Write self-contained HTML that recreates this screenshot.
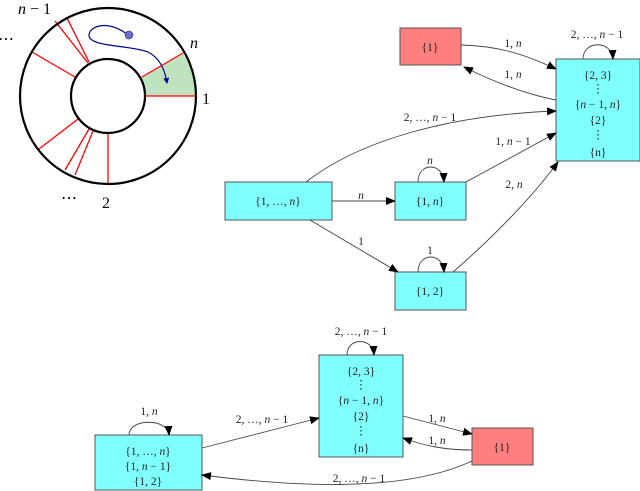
<!DOCTYPE html>
<html><head><meta charset="utf-8"><style>
html,body{margin:0;padding:0;background:#fff;}
svg{display:block;}
text{font-family:"Liberation Serif",serif;font-size:11.5px;fill:#222;}
.i{font-style:italic;}
.big{font-size:16px;fill:#000;}
</style></head><body>
<svg width="640" height="491" viewBox="0 0 640 491" xmlns="http://www.w3.org/2000/svg">
<defs>
<marker id="a" markerWidth="10" markerHeight="8" refX="9" refY="4" orient="auto" markerUnits="userSpaceOnUse">
<path d="M0,0 L10,4 L0,8 z" fill="#000"/></marker>
<marker id="b" markerWidth="6" markerHeight="6" refX="5" refY="3" orient="auto" markerUnits="userSpaceOnUse">
<path d="M0,0 L6,3 L0,6 z" fill="#00008b"/></marker>
</defs>
<path d="M108,96 L183,53 A88,88 0 0 1 196,96 Z" fill="#bfe3c0"/>
<circle cx="108" cy="96" r="37" fill="#fff"/>
<g stroke="#f00" stroke-width="1.3">
<line x1="142" y1="77" x2="183" y2="53"/>
<line x1="146" y1="96" x2="196" y2="96"/>
<line x1="55" y1="21" x2="88" y2="63"/>
<line x1="67" y1="18" x2="89" y2="62"/>
<line x1="32" y1="52" x2="75" y2="77"/>
<line x1="78" y1="119" x2="39" y2="149"/>
<line x1="89" y1="129" x2="65" y2="170"/>
<line x1="93" y1="131" x2="75" y2="175"/>
<line x1="108" y1="133" x2="108" y2="183"/>
</g>
<circle cx="108" cy="96" r="88" fill="none" stroke="#000" stroke-width="2.2"/>
<circle cx="108" cy="96" r="37" fill="none" stroke="#000" stroke-width="2.2"/>
<path d="M128,35 C110,20 90,25 89,35 C88,47 130,45 148,52 C160,58 165,70 167,83" fill="none" stroke="#00008b" stroke-width="1.2" marker-end="url(#b)"/>
<circle cx="129" cy="35" r="4" fill="#6b6bd6" stroke="#333" stroke-width="0.6"/>
<text x="18" y="14" class="big"><tspan class="i">n</tspan> − 1</text>
<text x="190" y="48" class="big i">n</text>
<text x="202" y="104" class="big">1</text>
<text x="-2" y="44" class="big">⋯</text>
<text x="61" y="203" class="big">⋯</text>
<text x="102" y="208" class="big">2</text>

<g stroke="#555" stroke-width="1">
<rect x="400" y="28" width="61" height="37" fill="#ff7f7f"/>
<rect x="556" y="59" width="84" height="102" fill="#80ffff"/>
<rect x="225" y="182" width="107" height="38" fill="#80ffff"/>
<rect x="395" y="182" width="71" height="38" fill="#80ffff"/>
<rect x="395" y="272" width="71" height="38" fill="#80ffff"/>
<rect x="319" y="355" width="84" height="102" fill="#80ffff"/>
<rect x="472" y="428" width="61" height="37" fill="#ff7f7f"/>
<rect x="95" y="435" width="107" height="55" fill="#80ffff"/>
</g>
<g text-anchor="middle">
<text x="430" y="51">{1}</text>
<text x="598" y="79">{2, 3}</text>
<text x="598" y="92">⋮</text>
<text x="598" y="108">{<tspan class="i">n</tspan> − 1, <tspan class="i">n</tspan>}</text>
<text x="598" y="124">{2}</text>
<text x="598" y="138">⋮</text>
<text x="598" y="156">{n}</text>
<text x="278" y="205">{1, …, <tspan class="i">n</tspan>}</text>
<text x="430" y="205">{1, <tspan class="i">n</tspan>}</text>
<text x="430" y="295">{1, 2}</text>
<text x="361" y="375">{2, 3}</text>
<text x="361" y="388">⋮</text>
<text x="361" y="404">{<tspan class="i">n</tspan> − 1, <tspan class="i">n</tspan>}</text>
<text x="361" y="420">{2}</text>
<text x="361" y="434">⋮</text>
<text x="361" y="452">{n}</text>
<text x="502" y="451">{1}</text>
<text x="148" y="455">{1, …, <tspan class="i">n</tspan>}</text>
<text x="148" y="470">{1, <tspan class="i">n</tspan> − 1}</text>
<text x="148" y="485">{1, 2}</text>
</g>
<g fill="none" stroke="#444" stroke-width="0.9">
<path d="M461,45 C495,46 520,52 556,69" marker-end="url(#a)"/>
<path d="M556,100 C530,95 500,85 464,67" marker-end="url(#a)"/>
<path d="M583,59 C583,40 612,40 613,59" marker-end="url(#a)"/>
<path d="M306,182 C360,140 450,115 556,111" marker-end="url(#a)"/>
<path d="M466,182 L556,133" marker-end="url(#a)"/>
<path d="M453,272 C490,240 530,200 558,162" marker-end="url(#a)"/>
<path d="M332,201 L395,201" marker-end="url(#a)"/>
<path d="M310,220 L398,272" marker-end="url(#a)"/>
<path d="M418,182 C418,162 443,162 444,182" marker-end="url(#a)"/>
<path d="M418,272 C418,252 443,252 444,272" marker-end="url(#a)"/>
<path d="M347,355 C347,337 373,337 374,355" marker-end="url(#a)"/>
<path d="M403,416 L472,434" marker-end="url(#a)"/>
<path d="M472,450 C445,450 425,446 403,438" marker-end="url(#a)"/>
<path d="M472,461 C400,495 280,485 202,475" marker-end="url(#a)"/>
<path d="M202,448 L319,418" marker-end="url(#a)"/>
<path d="M129,435 C129,418 168,418 169,435" marker-end="url(#a)"/>
</g>
<g text-anchor="middle">
<text x="513" y="47">1, <tspan class="i">n</tspan></text>
<text x="513" y="78">1, <tspan class="i">n</tspan></text>
<text x="597" y="38">2, …, <tspan class="i">n</tspan> − 1</text>
<text x="430" y="121">2, …, <tspan class="i">n</tspan> − 1</text>
<text x="513" y="145">1, <tspan class="i">n</tspan> − 1</text>
<text x="514" y="188">2, <tspan class="i">n</tspan></text>
<text x="361" y="199" class="i">n</text>
<text x="361" y="245">1</text>
<text x="430" y="164" class="i">n</text>
<text x="430" y="254">1</text>
<text x="361" y="335">2, …, <tspan class="i">n</tspan> − 1</text>
<text x="437" y="422">1, <tspan class="i">n</tspan></text>
<text x="437" y="444">1, <tspan class="i">n</tspan></text>
<text x="359" y="482">2, …, <tspan class="i">n</tspan> − 1</text>
<text x="262" y="423">2, …, <tspan class="i">n</tspan> − 1</text>
<text x="149" y="415">1, <tspan class="i">n</tspan></text>
</g>
</svg>
</body></html>
